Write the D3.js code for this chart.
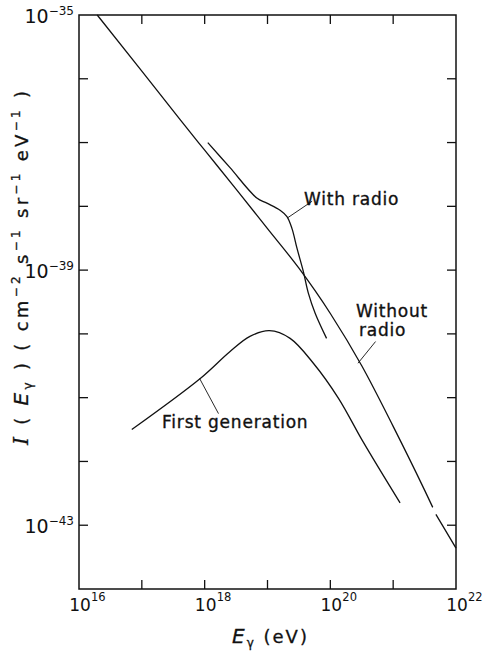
<!DOCTYPE html>
<html>
<head>
<meta charset="utf-8">
<script src="https://cdn.jsdelivr.net/npm/d3@7"></script>
<style>
  html,body{margin:0;padding:0;background:#fff;}
  svg{display:block;}
  text{font-family:"DejaVu Sans",sans-serif;fill:#111;}
</style>
</head>
<body>
<svg id="chart" width="483" height="652"></svg>
<script>
// values are log10(E / eV) and log10(I / cm^-2 s^-1 sr^-1 eV^-1)
var withoutE=[16.29,17.0,17.6,18.0,18.5,19.0,19.5,20.0,20.5,21.0,21.5,21.63,null,21.68,22.0];
var withoutI=[-35.0,-35.88,-36.63,-37.12,-37.73,-38.35,-38.97,-39.68,-40.50,-41.45,-42.45,-42.72,null,-42.83,-43.36];

var radioE=[18.05,18.40,18.83,18.99,19.20,19.31,19.39,19.47,19.57,19.65,19.76,19.94];
var radioI=[-37.00,-37.39,-37.87,-37.95,-38.06,-38.16,-38.35,-38.66,-39.02,-39.36,-39.68,-40.07];

var firstE=[16.84,17.93,18.40,18.72,19.03,19.36,19.73,20.13,20.52,21.11];
var firstI=[-41.50,-40.70,-40.28,-40.04,-39.95,-40.07,-40.46,-41.01,-41.69,-42.65];

var xTickExp=[17,18,19,20,21];
var xLabelExp=[16,18,20,22];
var yTickExp=[-43,-42,-41,-40,-39,-38,-37,-36];
var yLabelExp=[-35,-39,-43];

// annotation leaders: [fromE, fromI, toE, toI]
var leaders=[
  [19.32,-38.18,19.71,-37.92],
  [20.44,-40.46,20.72,-40.12],
  [17.92,-40.70,18.22,-41.25]
];

var svg=d3.select('#chart');
var ml=79, mr=27, mt=15, mb=63, W=483, H=652;

var x=d3.scaleLog().domain([1e16,1e22]).range([ml,W-mr]);
var y=d3.scaleLog().domain([1e-44,1e-35]).range([H-mb,mt]);
function p(v){return Math.pow(10,v);}

var ink='#111';

// frame
svg.append('rect').attr('x',ml).attr('y',mt).attr('width',x(1e22)-ml).attr('height',y(1e-44)-mt)
  .attr('fill','none').attr('stroke',ink).attr('stroke-width',1.5);

var tl=9;
xTickExp.forEach(function(e){
  var xx=x(p(e));
  svg.append('line').attr('x1',xx).attr('x2',xx).attr('y1',y(1e-44)).attr('y2',y(1e-44)-tl).attr('stroke',ink).attr('stroke-width',1.3);
  svg.append('line').attr('x1',xx).attr('x2',xx).attr('y1',mt).attr('y2',mt+tl).attr('stroke',ink).attr('stroke-width',1.3);
});
yTickExp.forEach(function(e){
  var yy=y(p(e));
  svg.append('line').attr('x1',ml).attr('x2',ml+tl).attr('y1',yy).attr('y2',yy).attr('stroke',ink).attr('stroke-width',1.3);
  svg.append('line').attr('x1',x(1e22)).attr('x2',x(1e22)-tl).attr('y1',yy).attr('y2',yy).attr('stroke',ink).attr('stroke-width',1.3);
});

// tick labels
xLabelExp.forEach(function(e){
  var xx=x(p(e));
  svg.append('text').attr('x',xx+1).attr('y',611).attr('text-anchor','middle').attr('font-size','17px').text('10');
  svg.append('text').attr('x',xx+12).attr('y',601).attr('font-size','11.5px').text(e);
});
yLabelExp.forEach(function(e){
  var yy=y(p(e));
  var t=svg.append('text').attr('x',74).attr('y',yy+8).attr('text-anchor','end');
  t.append('tspan').attr('font-size','19px').text('10');
  t.append('tspan').attr('font-size','12px').attr('dy',-8).text('\u2212'+Math.abs(e));
});

// curves
function mkLine(E,I,curve){
  var pts=E.map(function(e,i){return [e,I[i]];});
  var line=d3.line()
    .defined(function(d){return d[0]!=null;})
    .x(function(d){return x(p(d[0]));})
    .y(function(d){return y(p(d[1]));})
    .curve(curve);
  svg.append('path').datum(pts).attr('d',line)
    .attr('fill','none').attr('stroke',ink).attr('stroke-width',1.3).attr('stroke-linejoin','round');
}
mkLine(withoutE,withoutI,d3.curveMonotoneX);
mkLine(radioE,radioI,d3.curveCatmullRom.alpha(0.5));
mkLine(firstE,firstI,d3.curveCatmullRom.alpha(0.5));

leaders.forEach(function(l){
  svg.append('line').attr('x1',x(p(l[0]))).attr('y1',y(p(l[1]))).attr('x2',x(p(l[2]))).attr('y2',y(p(l[3])))
    .attr('stroke',ink).attr('stroke-width',0.9);
});

// annotations
function note(txt,xx,yy){
  svg.append('text').attr('x',xx).attr('y',yy).attr('font-size','17px').attr('letter-spacing','0.8px')
    .attr('stroke',ink).attr('stroke-width',0.35).text(txt);
}
note('With radio',304,205);
note('Without',356,317);
note('radio',359,336);
note('First generation',162,428);

// x axis title
var xt=svg.append('text').attr('x',232).attr('y',643).attr('font-size','18px').attr('letter-spacing','2px')
  .attr('stroke',ink).attr('stroke-width',0.3);
xt.append('tspan').attr('font-style','italic').attr('font-size','20px').text('E');
xt.append('tspan').attr('font-size','12px').attr('dy',4).text('\u03b3');
xt.append('tspan').attr('dy',-4).text(' (eV)');

// y axis title
var yt=svg.append('text').attr('transform','translate(28,445) rotate(-90)')
  .attr('font-size','18px').attr('letter-spacing','3.3px').attr('stroke',ink).attr('stroke-width',0.3);
yt.append('tspan').attr('font-family','DejaVu Serif,serif').attr('font-style','italic').attr('font-size','20px').text('I');
yt.append('tspan').text(' ( ');
yt.append('tspan').attr('font-style','italic').attr('font-size','20px').text('E');
yt.append('tspan').attr('font-size','12px').attr('dy',4).text('\u03b3');
yt.append('tspan').attr('dy',-4).text(' ) ( cm');
yt.append('tspan').attr('font-size','12px').attr('dy',-8).text('\u22122');
yt.append('tspan').attr('dy',8).text(' s');
yt.append('tspan').attr('font-size','12px').attr('dy',-8).text('\u22121');
yt.append('tspan').attr('dy',8).text(' sr');
yt.append('tspan').attr('font-size','12px').attr('dy',-8).text('\u22121');
yt.append('tspan').attr('dy',8).text(' eV');
yt.append('tspan').attr('font-size','12px').attr('dy',-8).text('\u22121');
yt.append('tspan').attr('dy',8).text(' )');
</script>
</body>
</html>
